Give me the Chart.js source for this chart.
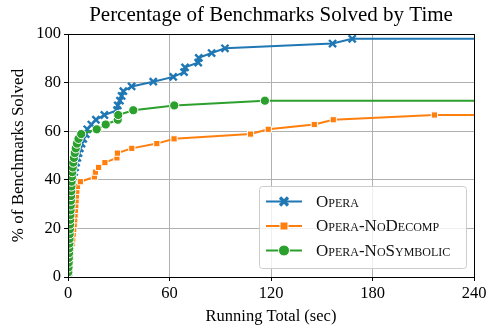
<!DOCTYPE html>
<html>
<head>
<meta charset="utf-8">
<script src="https://cdn.jsdelivr.net/npm/chart.js@4.4.1/dist/chart.umd.min.js"></script>
<style>
  html, body { margin: 0; padding: 0; background: #fff; }
  #wrap { width: 498px; height: 336px; position: relative; }
</style>
</head>
<body>
<div id="wrap"><canvas id="c" width="498" height="336"></canvas></div>
<script>
// ── data (time in sec, % solved) ──
const xTicks = [0, 60, 120, 180, 240];
const yTicks = [0, 20, 40, 60, 80, 100];
const seriesNames = ['Opera', 'Opera-NoDecomp', 'Opera-NoSymbolic'];

const operaTime = [0.3, 0.4, 0.5, 0.6, 0.7, 0.8, 0.9, 1.0, 1.1, 1.2,
  1.3, 1.4, 1.5, 1.6, 1.7, 1.8, 1.9, 2.0, 2.2, 2.4,
  3.0, 3.6, 4.2, 4.8, 5.5, 6.2, 7.0, 8.0, 9.0, 10.5,
  11.4, 13.8, 16.5, 21.5, 29.0, 29.4, 30.7, 31.7, 32.7, 37.6,
  50.4, 62.2, 68.6, 69.2, 77.0, 77.3, 84.9, 92.8, 156.4, 168.0, 240];
const operaPct = [1.96, 3.92, 5.88, 7.84, 9.80, 11.76, 13.73, 15.69, 17.65, 19.61,
  21.57, 23.53, 25.49, 27.45, 29.41, 31.37, 33.33, 35.29, 37.25, 39.22,
  41.18, 43.14, 45.10, 47.06, 49.02, 50.98, 52.94, 54.90, 56.86, 58.82,
  60.78, 62.75, 64.71, 66.67, 68.63, 70.59, 72.55, 74.51, 76.47, 78.43,
  80.39, 82.35, 84.31, 86.27, 88.24, 90.20, 92.16, 94.12, 96.08, 98.04, 98.04];

const noDecompTime = [0.5, 0.8, 1.0, 1.3, 1.6, 2.0, 2.4, 2.8, 3.1, 3.4,
  3.7, 4.0, 4.2, 4.4, 4.6, 4.8, 5.0, 5.2, 5.6, 7.3,
  15.6, 16.2, 18.1, 21.8, 28.9, 29.2, 37.7, 52.5, 62.7, 107.9,
  118.4, 145.6, 156.8, 216.6, 240];
const noDecompPct = [1.96, 3.92, 5.88, 7.84, 9.80, 11.76, 13.73, 15.69, 17.65, 19.61,
  21.57, 23.53, 25.49, 27.45, 29.41, 31.37, 33.33, 35.29, 37.25, 39.22,
  41.18, 43.14, 45.10, 47.06, 49.02, 50.98, 52.94, 54.90, 56.86, 58.82,
  60.78, 62.75, 64.71, 66.67, 66.67];

const noSymTime = [0.2, 0.3, 0.4, 0.5, 0.6, 0.7, 0.8, 0.9, 1.0, 1.1,
  1.2, 1.3, 1.4, 1.5, 1.6, 1.7, 1.8, 1.9, 2.0, 2.1,
  2.3, 2.5, 2.8, 3.1, 3.5, 4.0, 4.6, 5.3, 6.2, 7.8,
  17.0, 22.3, 29.4, 29.7, 38.6, 62.8, 116.4, 240];
const noSymPct = [1.96, 3.92, 5.88, 7.84, 9.80, 11.76, 13.73, 15.69, 17.65, 19.61,
  21.57, 23.53, 25.49, 27.45, 29.41, 31.37, 33.33, 35.29, 37.25, 39.22,
  41.18, 43.14, 45.10, 47.06, 49.02, 50.98, 52.94, 54.90, 56.86, 58.82,
  60.78, 62.75, 64.71, 66.67, 68.63, 70.59, 72.55, 72.55];

const SERIF = "'Liberation Serif', 'DejaVu Serif', serif";
const COL = ['#1f77b4', '#ff7f0e', '#2ca02c'];

function pts(xs, ys) { return xs.map((x, i) => ({ x, y: ys[i] })); }
// last point only carries the flat line out to 240, no marker
const noLast = r => ctx => ctx.dataIndex === ctx.dataset.data.length - 1 ? 0 : r;

const markers = [
  { style: 'crossRot', r: 5, bw: 2.4, border: COL[0] },
  { style: 'rect', r: 4.4, bw: 1, border: '#fff' },
  { style: 'circle', r: 4.6, bw: 1, border: '#fff' },
];

function mkSet(i, data, order) {
  const m = markers[i];
  return {
    label: seriesNames[i], data, order,
    borderColor: COL[i], backgroundColor: COL[i], borderWidth: 2,
    pointStyle: m.style, pointRadius: noLast(m.r), pointHoverRadius: noLast(m.r),
    pointBorderColor: m.border, pointBackgroundColor: COL[i], pointBorderWidth: m.bw,
    showLine: true, tension: 0,
  };
}

// frame + legend with line samples (matplotlib look)
const framePlugin = {
  id: 'frame',
  afterDraw(chart) {
    const { ctx, chartArea: a } = chart;
    ctx.save();
    ctx.strokeStyle = '#000'; ctx.lineWidth = 1;
    ctx.strokeRect(a.left + 0.5, a.top + 0.5, a.right - a.left, a.bottom - a.top);

    // legend box
    const bx = 259.5, by = 186.5, bw = 207, bh = 82;
    ctx.beginPath();
    ctx.roundRect(bx, by, bw, bh, 3);
    ctx.fillStyle = 'rgba(255,255,255,0.8)'; ctx.fill();
    ctx.strokeStyle = '#cccccc'; ctx.lineWidth = 1; ctx.stroke();
    const rows = [201.5, 226, 250.5];
    rows.forEach((ry, i) => {
      ctx.strokeStyle = COL[i]; ctx.lineWidth = 2;
      ctx.beginPath(); ctx.moveTo(266, ry); ctx.lineTo(302, ry); ctx.stroke();
      const m = markers[i];
      ctx.fillStyle = COL[i]; ctx.strokeStyle = m.border;
      if (i === 0) {
        ctx.lineWidth = 3.2; const d = 4;
        ctx.beginPath();
        ctx.moveTo(284 - d, ry - d); ctx.lineTo(284 + d, ry + d);
        ctx.moveTo(284 - d, ry + d); ctx.lineTo(284 + d, ry - d);
        ctx.stroke();
      } else if (i === 1) {
        ctx.lineWidth = 1;
        ctx.fillRect(280, ry - 4, 8, 8); ctx.strokeRect(280, ry - 4, 8, 8);
      } else {
        ctx.lineWidth = 1;
        ctx.beginPath(); ctx.arc(284, ry, 5.5, 0, Math.PI * 2); ctx.fill(); ctx.stroke();
      }
      ctx.fillStyle = '#111';
      ctx.font = 'small-caps 17px ' + SERIF;
      ctx.textBaseline = 'middle'; ctx.textAlign = 'left';
      ctx.fillText(seriesNames[i], 316, ry + 1);
    });
    ctx.restore();
  }
};

new Chart(document.getElementById('c'), {
  type: 'scatter',
  data: {
    datasets: [
      mkSet(0, pts(operaTime, operaPct), 3),
      mkSet(1, pts(noDecompTime, noDecompPct), 2),
      mkSet(2, pts(noSymTime, noSymPct), 1),
    ],
  },
  options: {
    responsive: false, animation: false, devicePixelRatio: 1,
    layout: { padding: { left: 0, right: 24, top: 0, bottom: 0 } },
    plugins: {
      legend: { display: false },
      tooltip: { enabled: false },
      title: {
        display: true, fullSize: false, text: 'Percentage of Benchmarks Solved by Time',
        color: '#000', font: { family: SERIF, size: 21, weight: 'normal' },
        padding: { top: 3, bottom: 5.8 },
      },
    },
    scales: {
      x: {
        type: 'linear', min: 0, max: 240,
        afterBuildTicks: s => { s.ticks = xTicks.map(v => ({ value: v })); },
        afterFit: s => { s.height = 59; },
        grid: { color: '#b0b0b0', lineWidth: 1, tickColor: '#000', tickLength: 4, drawOnChartArea: true },
        border: { display: true, color: '#000', width: 1 },
        ticks: { color: '#000', font: { family: SERIF, size: 16.5 }, padding: 3, maxRotation: 0 },
        title: { display: true, text: 'Running Total (sec)', color: '#000', font: { family: SERIF, size: 16.5 }, padding: { top: 0, bottom: 9 } },
      },
      y: {
        min: 0, max: 100,
        afterBuildTicks: s => { s.ticks = yTicks.map(v => ({ value: v })); },
        afterFit: s => { s.width = 68; },
        grid: { color: '#b0b0b0', lineWidth: 1, tickColor: '#000', tickLength: 4 },
        border: { display: true, color: '#000', width: 1 },
        ticks: { color: '#000', font: { family: SERIF, size: 16.5 }, padding: 3 },
        title: { display: true, text: '% of Benchmarks Solved', color: '#000', font: { family: SERIF, size: 17 }, padding: { top: 8, bottom: 4 } },
      },
    },
  },
  plugins: [framePlugin],
});
</script>
</body>
</html>
